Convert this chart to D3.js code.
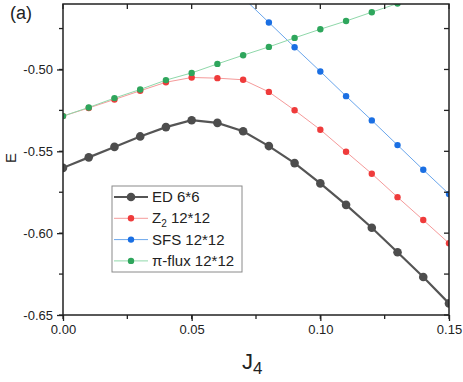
<!DOCTYPE html>
<html>
<head>
<meta charset="utf-8">
<script src="https://cdn.jsdelivr.net/npm/d3@7"></script>
<style>
  body { margin: 0; background: #fff; }
  svg text { font-family: "Liberation Sans", Arial, sans-serif; fill: #222; }
</style>
</head>
<body>
<div id="chart"></div>
<script>
// J4 values and energies
const jValues = [0.00, 0.01, 0.02, 0.03, 0.04, 0.05, 0.06, 0.07, 0.08, 0.09, 0.10, 0.11, 0.12, 0.13, 0.14, 0.15];
const edValues = [-0.5601, -0.5537, -0.5473, -0.5409, -0.5352, -0.5310, -0.5326, -0.5377, -0.5468, -0.5572, -0.5696, -0.5827, -0.5967, -0.6117, -0.6268, -0.6429];
const z2Values = [-0.5285, -0.5235, -0.5183, -0.5130, -0.5078, -0.5049, -0.5053, -0.5063, -0.5137, -0.5249, -0.5368, -0.5503, -0.5637, -0.5780, -0.5920, -0.6062];
const sfsJ = [0.07, 0.08, 0.09, 0.10, 0.11, 0.12, 0.13, 0.14, 0.15];
const sfsValues = [-0.4562, -0.4713, -0.4864, -0.5012, -0.5163, -0.5311, -0.5462, -0.5613, -0.5761];
const piJ = [0.00, 0.01, 0.02, 0.03, 0.04, 0.05, 0.06, 0.07, 0.08, 0.09, 0.10, 0.11, 0.12, 0.13];
const piValues = [-0.5285, -0.5232, -0.5175, -0.5122, -0.5065, -0.5021, -0.4966, -0.4913, -0.4862, -0.4807, -0.4754, -0.4704, -0.4650, -0.4597];
const xTicks = [0, 0.05, 0.10, 0.15];
const yTicks = [-0.65, -0.60, -0.55, -0.50];
const legendNames = ["ED 6*6", "Z2 12*12", "SFS 12*12", "\u03c0-flux 12*12"];

const width = 463, height = 382;
const margin = { left: 63, right: 14, top: 4, bottom: 67 };

const svg = d3.select("#chart").append("svg")
  .attr("width", width)
  .attr("height", height);

const x = d3.scaleLinear().domain([0, 0.15]).range([margin.left, width - margin.right]);
const y = d3.scaleLinear().domain([-0.65, -0.46]).range([height - margin.bottom, margin.top]);

svg.append("clipPath").attr("id", "plotclip")
  .append("rect")
  .attr("x", margin.left).attr("y", margin.top)
  .attr("width", x.range()[1] - margin.left)
  .attr("height", y.range()[0] - margin.top);

// series
const series = [
  { xs: jValues, ys: edValues, line: "#555555", dot: "#4d4d4d", lw: 2.2, r: 4.3 },
  { xs: jValues, ys: z2Values, line: "#f59a9a", dot: "#ef3b3b", lw: 1, r: 3.2 },
  { xs: sfsJ, ys: sfsValues, line: "#6aa6ec", dot: "#1a6fe3", lw: 1, r: 3.2 },
  { xs: piJ, ys: piValues, line: "#8fd8aa", dot: "#2ea65c", lw: 1, r: 3.2 }
];

const plot = svg.append("g").attr("clip-path", "url(#plotclip)");
const line = d3.line().x(d => x(d[0])).y(d => y(d[1]));

series.forEach(s => {
  const pts = s.xs.map((v, i) => [v, s.ys[i]]);
  plot.append("path")
    .datum(pts)
    .attr("d", line)
    .attr("fill", "none")
    .attr("stroke", s.line)
    .attr("stroke-width", s.lw);
  plot.selectAll(null)
    .data(pts)
    .enter()
    .append("circle")
    .attr("cx", d => x(d[0]))
    .attr("cy", d => y(d[1]))
    .attr("r", s.r)
    .attr("fill", s.dot);
});

// axes
const minorX = d3.range(0, 0.151, 0.025);
const minorY = d3.range(-0.65, -0.459, 0.025);

const xAxis = d3.axisBottom(x).tickValues(xTicks).tickFormat(d3.format(".2f")).tickSize(6).tickPadding(4);
const yAxis = d3.axisLeft(y).tickValues(yTicks).tickFormat(d3.format(".2f")).tickSize(6).tickPadding(4);

const gx = svg.append("g")
  .attr("transform", "translate(0," + y.range()[0] + ")")
  .call(xAxis);
const gy = svg.append("g")
  .attr("transform", "translate(" + margin.left + ",0)")
  .call(yAxis);

[gx, gy].forEach(g => {
  g.select(".domain").remove();
  g.selectAll("line").attr("stroke", "#222").attr("stroke-width", 1.3);
  g.selectAll("text").attr("font-size", "13px").style("fill", "#222");
});
gy.selectAll("text").text(d => d3.format(".2f")(d).replace("\u2212", "-"));

// minor ticks
minorX.forEach(v => {
  svg.append("line").attr("x1", x(v)).attr("x2", x(v))
    .attr("y1", y.range()[0]).attr("y2", y.range()[0] + 4)
    .attr("stroke", "#222").attr("stroke-width", 1.3);
  svg.append("line").attr("x1", x(v)).attr("x2", x(v))
    .attr("y1", margin.top).attr("y2", margin.top + 5)
    .attr("stroke", "#222").attr("stroke-width", 1.3);
});
minorY.forEach(v => {
  svg.append("line").attr("x1", margin.left - 4).attr("x2", margin.left)
    .attr("y1", y(v)).attr("y2", y(v))
    .attr("stroke", "#222").attr("stroke-width", 1.3);
  svg.append("line").attr("x1", x.range()[1] - 5).attr("x2", x.range()[1])
    .attr("y1", y(v)).attr("y2", y(v))
    .attr("stroke", "#222").attr("stroke-width", 1.3);
});

// frame
svg.append("rect")
  .attr("x", margin.left).attr("y", margin.top)
  .attr("width", x.range()[1] - margin.left)
  .attr("height", y.range()[0] - margin.top)
  .attr("fill", "none")
  .attr("stroke", "#222")
  .attr("stroke-width", 1.5);

// labels
svg.append("text")
  .attr("transform", "translate(16,158) rotate(-90)")
  .attr("text-anchor", "middle")
  .attr("font-size", "15px")
  .text("E");

const xl = svg.append("text")
  .attr("x", 242).attr("y", 369)
  .attr("font-size", "22px");
xl.append("tspan").text("J");
xl.append("tspan").attr("font-size", "17px").attr("dy", 5).text("4");

svg.append("text")
  .attr("x", 10).attr("y", 19)
  .attr("font-size", "18px")
  .text("(a)");

// legend
const legend = svg.append("g");
legend.append("rect")
  .attr("x", 112).attr("y", 186)
  .attr("width", 130).attr("height", 86)
  .attr("fill", "#fff")
  .attr("stroke", "#8a8a8a")
  .attr("stroke-width", 1);

legendNames.forEach((name, i) => {
  const s = series[i];
  const ly = 197 + i * 21.3;
  legend.append("line")
    .attr("x1", 114).attr("x2", 148)
    .attr("y1", ly).attr("y2", ly)
    .attr("stroke", s.line).attr("stroke-width", s.lw);
  legend.append("circle")
    .attr("cx", 131).attr("cy", ly).attr("r", s.r)
    .attr("fill", s.dot);
  const t = legend.append("text")
    .attr("x", 152).attr("y", ly + 5)
    .attr("font-size", "15px");
  if (i === 1) {
    t.append("tspan").text("Z");
    t.append("tspan").attr("font-size", "10px").attr("dy", 4).text("2");
    t.append("tspan").attr("dy", -4).text(" 12*12");
  } else {
    t.text(name);
  }
});
</script>
</body>
</html>
